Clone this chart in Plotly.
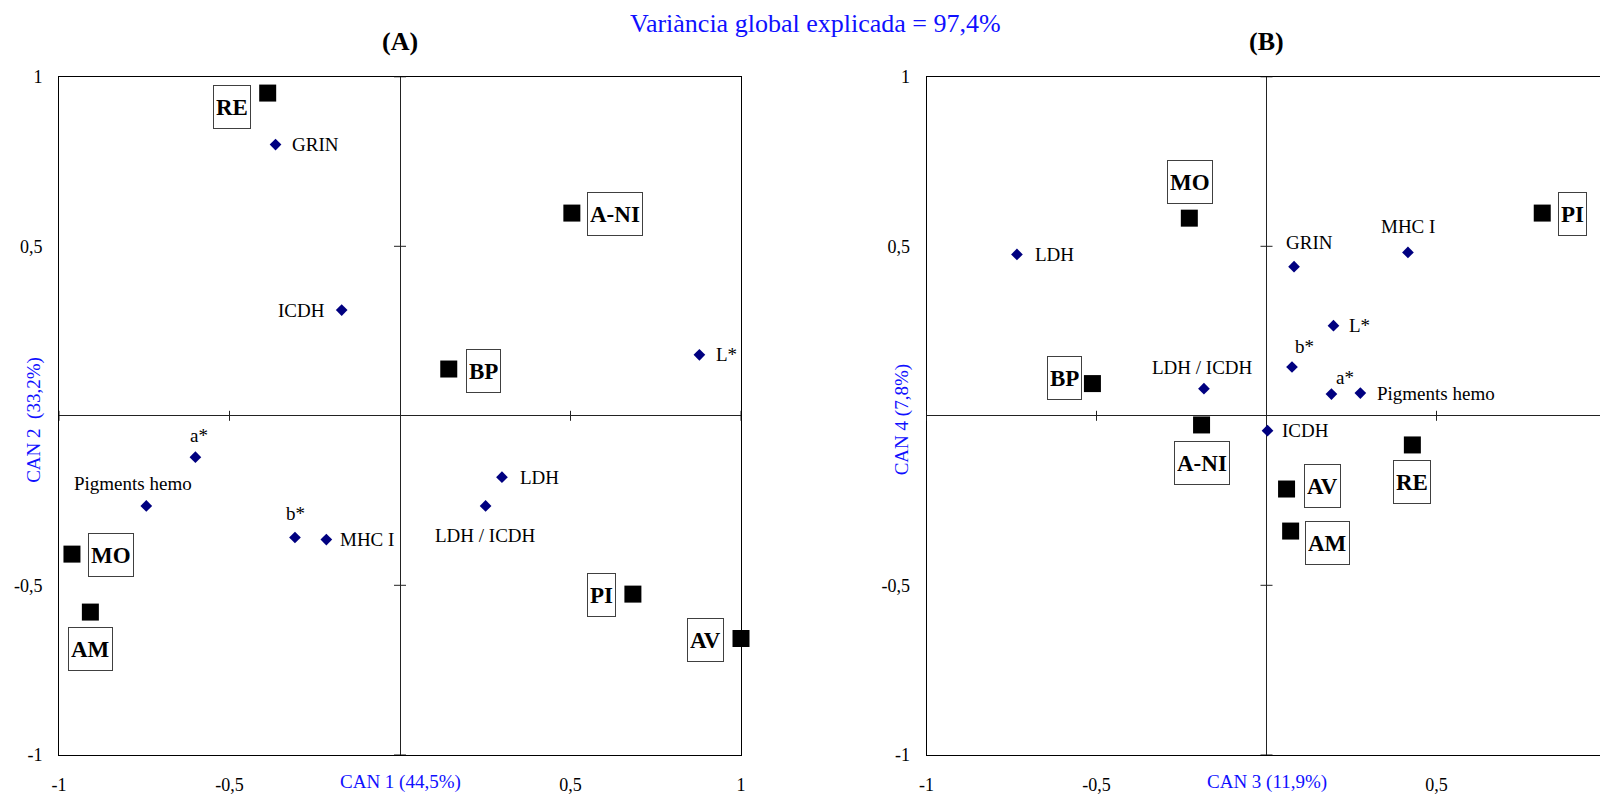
import plotly.graph_objects as go

# ---------------- data ----------------
groups = ['RE', 'A-NI', 'BP', 'MO', 'AM', 'PI', 'AV']
grpA_x = [-0.388, 0.504, 0.143, -0.962, -0.908, 0.683, 1.000]
grpA_y = [0.952, 0.598, 0.138, -0.408, -0.579, -0.526, -0.657]
grpB_x = [0.429, -0.191, -0.512, -0.227, 0.071, 0.811, 0.059]
grpB_y = [-0.086, -0.027, 0.095, 0.583, -0.340, 0.598, -0.216]

variables = ['GRIN', 'ICDH', 'L*', 'a*', 'Pigments hemo', 'b*', 'MHC I', 'LDH', 'LDH / ICDH']
varA_x = [-0.365, -0.171, 0.878, -0.600, -0.744, -0.308, -0.216, 0.299, 0.251]
varA_y = [0.800, 0.312, 0.180, -0.122, -0.266, -0.359, -0.365, -0.181, -0.266]
varB_x = [0.081, 0.003, 0.197, 0.191, 0.276, 0.075, 0.416, -0.734, -0.184]
varB_y = [0.440, -0.044, 0.266, 0.064, 0.067, 0.144, 0.482, 0.476, 0.080]

tick_vals = [-1, -0.5, 0.5, 1]
tick_text = ['-1', '-0,5', '0,5', '1']

title_main = 'Variància global explicada = 97,4%'
panel_titles = ['(A)', '(B)']
x_titles = ['CAN 1 (44,5%)', 'CAN 3 (11,9%)']
y_titles = ['CAN 2  (33,2%)', 'CAN 4 (7,8%)']

# ---------------- styles / label placement ----------------
OFF = 8                      # default page body margin
W, H = 1608 - OFF, 794 - OFF
FONT = 'Liberation Serif'
NAVY = '#000080'
BLUE = '#1010ff'


def px_x(p):
    return (p - OFF) / W


def px_y(p):
    return 1 - (p - OFF) / H


# group label box offsets (px right, px up)
grp_off = [
    {'RE': (-36, -14), 'A-NI': (43, -1), 'BP': (35, -2), 'MO': (39, -1),
     'AM': (0, -37), 'PI': (-31, -1), 'AV': (-36, -1)},
    {'RE': (0, -37), 'A-NI': (0, -38), 'BP': (-28, 6), 'MO': (1, 36),
     'AM': (37, -12), 'PI': (30, -1), 'AV': (36, 3)},
]
# variable label (anchor, px right, px up)
var_off = [
    {'GRIN': ('left', 14, 0), 'ICDH': ('right', -15, 0), 'L*': ('left', 15, 0),
     'a*': ('center', 4, 22), 'Pigments hemo': ('center', -13, 22), 'b*': ('center', 1, 24),
     'MHC I': ('left', 12, 0), 'LDH': ('left', 16, 0), 'LDH / ICDH': ('center', 0, -30)},
    {'GRIN': ('center', 15, 24), 'ICDH': ('left', 12, 0), 'L*': ('left', 14, 0),
     'a*': ('center', 14, 17), 'Pigments hemo': ('left', 15, 0), 'b*': ('center', 12, 20),
     'MHC I': ('center', 0, 26), 'LDH': ('left', 16, 0), 'LDH / ICDH': ('center', -1, 21)},
]

fig = go.Figure()

panels = [
    (grpA_x, grpA_y, varA_x, varA_y, 'x', 'y'),
    (grpB_x, grpB_y, varB_x, varB_y, 'x2', 'y2'),
]

annotations = []
shapes = []
for i, (gx, gy, vx, vy, xa, ya) in enumerate(panels):
    fig.add_trace(go.Scatter(
        x=gx, y=gy, mode='markers', xaxis=xa, yaxis=ya,
        marker=dict(symbol='square', size=17, color='black'),
        cliponaxis=False, hoverinfo='text', text=groups, showlegend=False))
    fig.add_trace(go.Scatter(
        x=vx, y=vy, mode='markers', xaxis=xa, yaxis=ya,
        marker=dict(symbol='diamond', size=9, color=NAVY),
        cliponaxis=False, hoverinfo='text', text=variables, showlegend=False))
    for name, x, y in zip(groups, gx, gy):
        dx, dy = grp_off[i][name]
        annotations.append(dict(
            x=x, y=y, xref=xa, yref=ya, text=name, showarrow=False,
            xshift=dx, yshift=dy, xanchor='center', yanchor='middle',
            font=dict(family=FONT, size=23, color='black', weight='bold'),
            bgcolor='white', bordercolor='#404040', borderwidth=1, borderpad=2,
            height=38))
    for name, x, y in zip(variables, vx, vy):
        anc, dx, dy = var_off[i][name]
        annotations.append(dict(
            x=x, y=y, xref=xa, yref=ya, text=name, showarrow=False,
            xshift=dx, yshift=dy, xanchor=anc, yanchor='middle',
            font=dict(family=FONT, size=19, color='black')))
    # axis titles
    annotations.append(dict(
        x=0, y=0, xref=xa, yref=ya + ' domain', text=x_titles[i],
        showarrow=False, xanchor='center', yanchor='middle', yshift=-27,
        font=dict(family=FONT, size=19, color=BLUE)))
    annotations.append(dict(
        x=0, y=0, xref=xa + ' domain', yref=ya, text=y_titles[i], textangle=-90,
        showarrow=False, xanchor='center', yanchor='middle', xshift=-25, yshift=-4,
        font=dict(family=FONT, size=19, color=BLUE)))
    annotations.append(dict(
        x=0.5, y=1, xref=xa + ' domain', yref=ya + ' domain', text=panel_titles[i],
        showarrow=False, xanchor='center', yanchor='middle', yshift=35,
        font=dict(family=FONT, size=26, color='black', weight='bold')))
    # tick marks on the central axes
    for v in tick_vals:
        shapes.append(dict(type='line', xref=xa, yref=ya, x0=v, x1=v,
                           ysizemode='pixel', yanchor=0, y0=-5, y1=5,
                           line=dict(color='#222222', width=1)))
        shapes.append(dict(type='line', xref=xa, yref=ya, y0=v, y1=v,
                           xsizemode='pixel', xanchor=0, x0=-6, x1=6,
                           line=dict(color='#222222', width=1)))

annotations.append(dict(
    x=px_x(815), y=px_y(24), xref='paper', yref='paper', text=title_main,
    showarrow=False, xanchor='center', yanchor='middle',
    font=dict(family=FONT, size=26, color=BLUE)))

axis_common = dict(
    range=[-1, 1], showgrid=False, zeroline=True, zerolinecolor='#222222', zerolinewidth=1,
    showline=True, mirror=True, linecolor='black', linewidth=1, ticks='',
    tickvals=tick_vals, ticktext=tick_text, tickfont=dict(family=FONT, size=18, color='black'),
    fixedrange=True, automargin=False, ticklabeloverflow='allow')

ydom = [px_y(754.8), px_y(76.8)]
fig.update_layout(
    width=W, height=H, margin=dict(l=0, r=0, t=0, b=0),
    paper_bgcolor='white', plot_bgcolor='white',
    xaxis=dict(domain=[px_x(59), px_x(741)], anchor='y', ticklabelstandoff=14, **axis_common),
    yaxis=dict(domain=ydom, anchor='x', ticklabelstandoff=12, **axis_common),
    xaxis2=dict(domain=[px_x(926.5), px_x(1606.5)], anchor='y2', ticklabelstandoff=14, **axis_common),
    yaxis2=dict(domain=ydom, anchor='x2', ticklabelstandoff=12, **axis_common),
    annotations=annotations, shapes=shapes, showlegend=False,
    font=dict(family=FONT),
)

fig.write_html('out.html')
